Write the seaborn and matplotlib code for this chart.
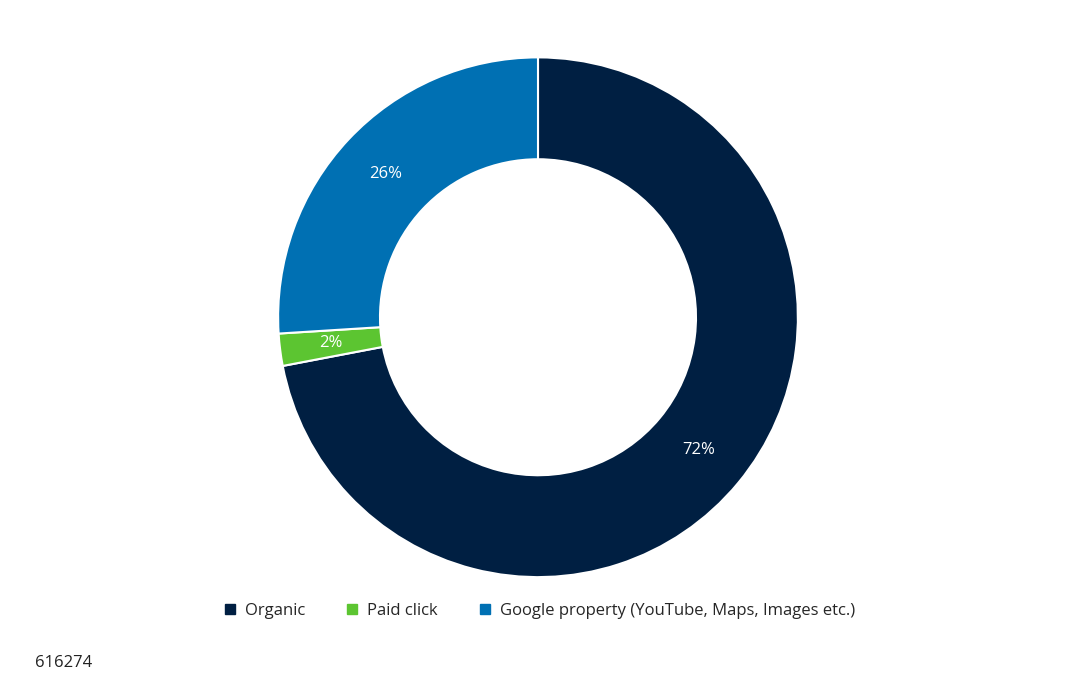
import matplotlib
matplotlib.use("Agg")
import matplotlib.pyplot as plt
import seaborn as sns
from matplotlib.patches import Patch

sns.set_theme(style="white")
plt.rcParams['font.family'] = ['Open Sans', 'DejaVu Sans']

categories = ["Organic", "Paid click", "Google property (YouTube, Maps, Images etc.)"]
values = [72, 2, 26]
colors = ["#001F42", "#5CC531", "#0070B3"]

fig = plt.figure(figsize=(10.8, 6.75), dpi=100)
ax = fig.add_axes([0.2574, 0.145, 0.4815, 0.770])
wedges, texts = ax.pie(values, colors=colors, startangle=90, counterclock=False,
                       radius=1.0, wedgeprops=dict(width=0.392, edgecolor="white", linewidth=1.5))
import numpy as np
ang = 90.0
for w, v in zip(wedges, values):
    mid = np.deg2rad((w.theta1 + w.theta2) / 2)
    r = 1 - 0.392 / 2
    ax.text(r * np.cos(mid), r * np.sin(mid), f"{v}%", color="white",
            ha="center", va="center", fontsize=12)
ax.set_aspect("equal")
ax.set_xlim(-1, 1); ax.set_ylim(-1, 1)
ax.axis("off")

handles = [Patch(facecolor=c, edgecolor=c) for c in colors]
fig.legend(handles, categories, loc="center", bbox_to_anchor=(0.5, 1 - 611/675),
           ncol=3, frameon=False, fontsize=12, handlelength=0.6, handleheight=0.6,
           columnspacing=2.5, handletextpad=0.6)
fig.text(35/1080, 1 - 663/675, "616274", fontsize=12, color="#222222", va="center")
fig.savefig("out.png", dpi=100, facecolor="white")
